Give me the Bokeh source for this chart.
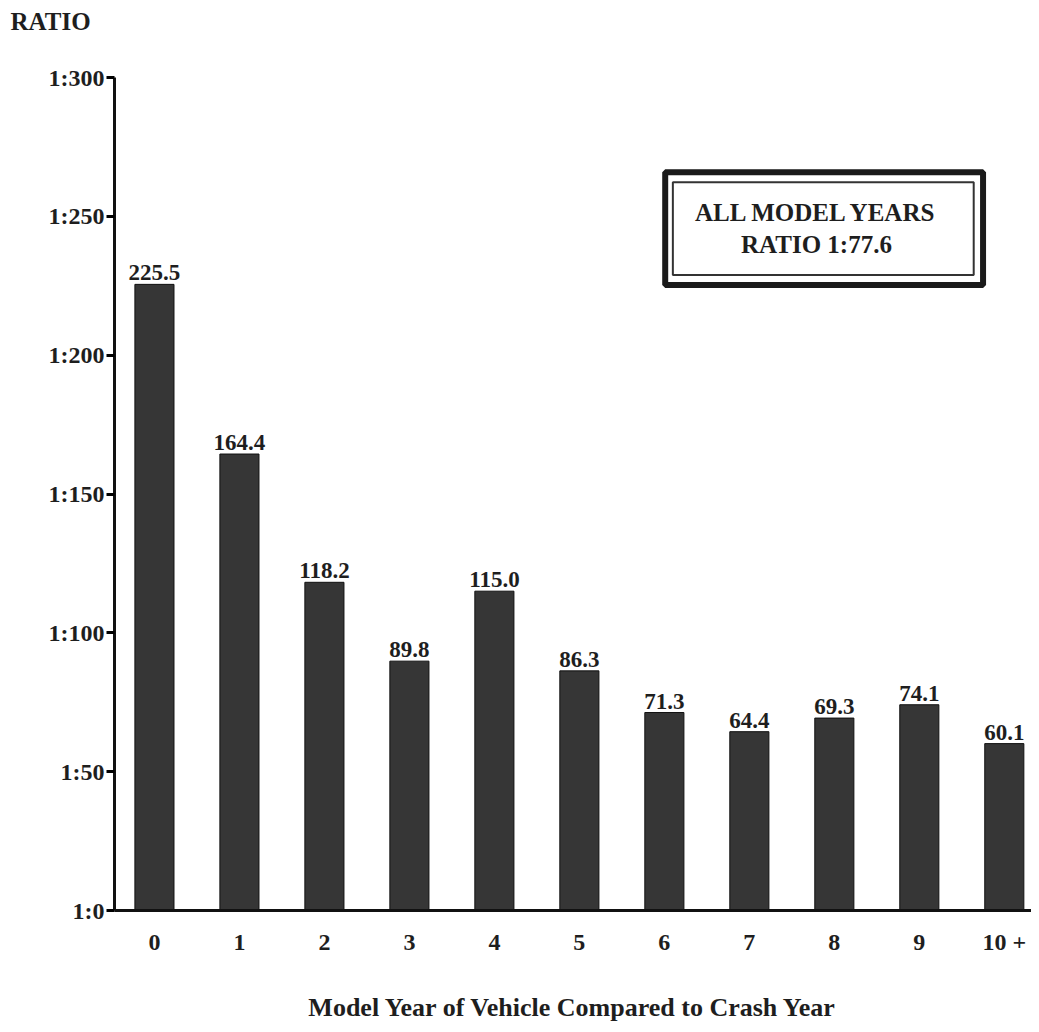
from bokeh.plotting import figure
from bokeh.models import Range1d, FixedTicker, Label, BoxAnnotation, ColumnDataSource, Title
from bokeh.core.properties import value
from bokeh.embed import file_html
from bokeh.resources import INLINE

categories = ["0", "1", "2", "3", "4", "5", "6", "7", "8", "9", "10 +"]
ratios = [225.5, 164.4, 118.2, 89.8, 115.0, 86.3, 71.3, 64.4, 69.3, 74.1, 60.1]
y_ticks = [0, 50, 100, 150, 200, 250, 300]
y_tick_labels = ["1:0", "1:50", "1:100", "1:150", "1:200", "1:250", "1:300"]
box_lines = ["ALL MODEL YEARS", "RATIO 1:77.6"]

FONT = "Liberation Serif"
INK = "#1e1e1e"
xs = list(range(len(categories)))

src = ColumnDataSource(dict(x=xs, y=ratios, lbl=["%.1f" % v for v in ratios]))

p = figure(width=1031, height=1024, output_backend="svg", toolbar_location=None,
           x_range=Range1d(-0.47, 10.32), y_range=Range1d(0, 300),
           min_border_left=114, min_border_right=0, min_border_top=77,
           min_border_bottom=111)
p.outline_line_color = None
p.xgrid.visible = False
p.ygrid.visible = False

# heading title, with a blank spacer title between it and the frame
p.title.text = "RATIO"
p.title.align = "left"
p.title.offset = -104
p.title.text_font = FONT
p.title.text_font_style = "bold"
p.title.text_font_size = "25px"
p.title.text_color = INK
p.add_layout(Title(text=" ", text_font_size="26px", standoff=6), "above")

p.vbar(x="x", top="y", width=0.46, source=src, fill_color="#363636",
       line_color="#111111", line_width=1)
p.text(x="x", y="y", text="lbl", source=src, text_align="center",
       text_baseline="bottom", y_offset=-4, text_font=value(FONT),
       text_font_style="bold", text_font_size="23px", text_color=INK)

# y axis
p.yaxis.ticker = FixedTicker(ticks=y_ticks)
p.yaxis.major_label_overrides = {t: l for t, l in zip(y_ticks, y_tick_labels)}
p.yaxis.axis_line_width = 3
p.yaxis.axis_line_color = "#111111"
p.yaxis.major_tick_out = 8
p.yaxis.major_tick_in = 0
p.yaxis.major_tick_line_width = 3
p.yaxis.minor_tick_line_color = None
p.yaxis.major_label_standoff = 2
p.yaxis.major_label_text_font = FONT
p.yaxis.major_label_text_font_style = "bold"
p.yaxis.major_label_text_font_size = "24px"
p.yaxis.major_label_text_color = INK

# x axis
p.xaxis.ticker = FixedTicker(ticks=xs)
p.xaxis.major_label_overrides = {i: c for i, c in zip(xs, categories)}
p.xaxis.axis_line_width = 3
p.xaxis.axis_line_color = "#111111"
p.xaxis.major_tick_line_color = None
p.xaxis.minor_tick_line_color = None
p.xaxis.major_label_standoff = 12
p.xaxis.major_label_text_font = FONT
p.xaxis.major_label_text_font_style = "bold"
p.xaxis.major_label_text_font_size = "24px"
p.xaxis.major_label_text_color = INK
p.xaxis.axis_label = "Model Year of Vehicle Compared to Crash Year"
p.xaxis.axis_label_text_font = FONT
p.xaxis.axis_label_text_font_style = "bold"
p.xaxis.axis_label_text_font_size = "26px"
p.xaxis.axis_label_text_color = INK
p.xaxis.axis_label_standoff = 35

# framed box
p.add_layout(BoxAnnotation(left=6.01, right=9.75, bottom=225.3, top=265.9,
                           fill_color="white", fill_alpha=1.0,
                           line_color="#1a1a1a", line_alpha=1.0, line_width=6))
p.add_layout(BoxAnnotation(left=6.10, right=9.64, bottom=228.9, top=262.3,
                           fill_alpha=0.0, line_color="#333333", line_alpha=1.0,
                           line_width=2))
p.add_layout(Label(x=7.79, y=251.5, text=box_lines[0], text_align="center",
                   text_baseline="middle", text_font=FONT, text_font_style="bold",
                   text_font_size="25px", text_color=INK))
p.add_layout(Label(x=7.79, y=240.0, text=box_lines[1], text_align="center",
                   text_baseline="middle", text_font=FONT, text_font_style="bold",
                   text_font_size="25px", text_color=INK))

open("out.html", "w").write(file_html(p, INLINE))
